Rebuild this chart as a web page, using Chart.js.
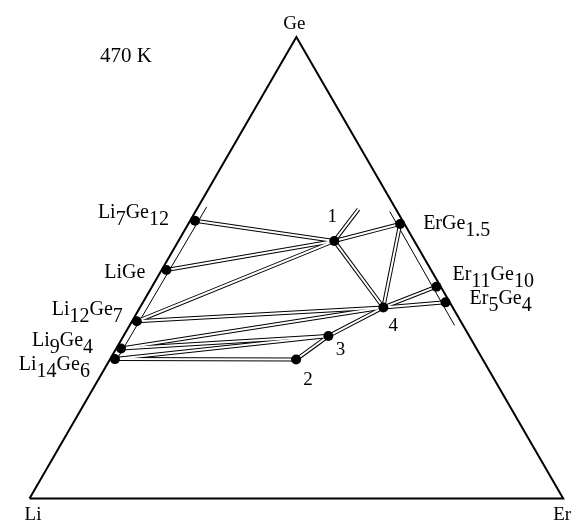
<!DOCTYPE html>
<html>
<head>
<meta charset="utf-8">
<script src="https://cdn.jsdelivr.net/npm/chart.js@4/dist/chart.umd.min.js"></script>
<style>
  html, body { margin: 0; padding: 0; background: #fff; }
  canvas { display: block; }
</style>
</head>
<body>
<canvas id="c" width="578" height="526"></canvas>
<script>
// Li–Ge–Er isothermal section at 470 K; compositions are atomic fractions.
const nodeNames = ['Li', 'Ge', 'Er',
  'Li7Ge12', 'LiGe', 'Li12Ge7', 'Li9Ge4', 'Li14Ge6',
  'ErGe1.5', 'Er11Ge10', 'Er5Ge4',
  '1', '2', '3', '4',
  '1a', 'liSideTop', 'liSideBottom', 'erSideTop', 'erSideBottom'];
const nodeLi = [1, 0, 0,
  0.389, 0.496, 0.607, 0.666, 0.689,
  0.008, 0.008, 0.008,
  0.150, 0.350, 0.264, 0.130,
  0.070, 0.352, 0.687, 0.014, 0.016];
const nodeGe = [0, 1, 0,
  0.602, 0.495, 0.384, 0.325, 0.302,
  0.595, 0.459, 0.425,
  0.558, 0.301, 0.352, 0.414,
  0.627, 0.632, 0.300, 0.622, 0.375];
const nodeEr = [0, 0, 1,
  0.009, 0.009, 0.009, 0.009, 0.009,
  0.397, 0.533, 0.567,
  0.292, 0.349, 0.384, 0.456,
  0.303, 0.016, 0.013, 0.364, 0.609];

// phases shown with a filled dot
const phaseNodes = ['Li7Ge12', 'LiGe', 'Li12Ge7', 'Li9Ge4', 'Li14Ge6',
  'ErGe1.5', 'Er11Ge10', 'Er5Ge4', '1', '2', '3', '4'];

// two-phase tie lines (drawn as double lines)
const tieStart = ['Li7Ge12', 'LiGe', 'Li12Ge7', '1', '1', '1', 'ErGe1.5', '4', '4',
  'Li12Ge7', 'Li9Ge4', 'Li9Ge4', 'Li14Ge6', 'Li14Ge6', '2', '3'];
const tieEnd = ['1', '1', '1', 'ErGe1.5', '4', '1a', '4', 'Er11Ge10', 'Er5Ge4',
  '4', '4', '3', '3', '2', '3', '4'];

// single thin lines along the binary sides
const sideStart = ['liSideTop', 'erSideTop'];
const sideEnd = ['liSideBottom', 'erSideBottom'];

// triangle outline
const outline = ['Li', 'Ge', 'Er', 'Li'];

const vertexLabels = ['Ge', 'Li', 'Er'];
const formulaLabels = ['Li7Ge12', 'LiGe', 'Li12Ge7', 'Li9Ge4', 'Li14Ge6', 'ErGe1.5', 'Er11Ge10', 'Er5Ge4'];
const numberLabels = ['1', '2', '3', '4'];
const temperatureLabel = '470 K';

// ---- geometry: ternary -> cartesian (equilateral triangle, Li at origin, Er at x = 1)
const H = Math.sqrt(3) / 2;
function idx(name) { return nodeNames.indexOf(name); }
function pt(name) {
  const i = idx(name);
  return { x: nodeEr[i] + nodeGe[i] / 2, y: nodeGe[i] * H };
}

// ---- label placement (pixel offsets from the labelled node)
const labelPlace = {
  'Ge': { dx: -2, dy: -8, align: 'center', size: 19 },
  'Li': { dx: -5, dy: 22, align: 'left', size: 19 },
  'Er': { dx: -10, dy: 22, align: 'left', size: 19 },
  'Li7Ge12': { dx: -26, dy: -3, align: 'right', size: 20 },
  'LiGe': { dx: -21, dy: 8, align: 'right', size: 20 },
  'Li12Ge7': { dx: -14, dy: -6, align: 'right', size: 20 },
  'Li9Ge4': { dx: -28, dy: -2, align: 'right', size: 20 },
  'Li14Ge6': { dx: -25, dy: 11, align: 'right', size: 20 },
  'ErGe1.5': { dx: 23, dy: 5, align: 'left', size: 20 },
  'Er11Ge10': { dx: 16, dy: -7, align: 'left', size: 20 },
  'Er5Ge4': { dx: 24, dy: 2, align: 'left', size: 20 },
  '1': { dx: -2, dy: -19, align: 'center', size: 19 },
  '2': { dx: 12, dy: 25, align: 'center', size: 19 },
  '3': { dx: 12, dy: 19, align: 'center', size: 19 },
  '4': { dx: 10, dy: 24, align: 'center', size: 19 }
};
const FONT = '"Liberation Serif", "Times New Roman", Times, serif';
const SUB_DROP = 7;

// ---- datasets
const datasets = [];
datasets.push({
  data: phaseNodes.map(pt), showLine: false,
  pointRadius: 5, pointBackgroundColor: '#000', pointBorderWidth: 0, order: 0
});
tieStart.forEach((s, k) => {
  const d = [pt(s), pt(tieEnd[k])];
  datasets.push({ data: d, showLine: true, pointRadius: 0, borderColor: '#fff', borderWidth: 2, order: 1 });
  datasets.push({ data: d, showLine: true, pointRadius: 0, borderColor: '#000', borderWidth: 4, order: 2 });
});
sideStart.forEach((s, k) => {
  datasets.push({ data: [pt(s), pt(sideEnd[k])], showLine: true, pointRadius: 0,
    borderColor: '#000', borderWidth: 1, order: 3 });
});
datasets.push({ data: outline.map(pt), showLine: true, pointRadius: 0,
  borderColor: '#000', borderWidth: 2, borderJoinStyle: 'miter', order: 4 });

// ---- text drawing
function tokens(formula) {
  const out = [];
  const re = /([A-Z][a-z]?)|([0-9.]+)/g;
  let m;
  while ((m = re.exec(formula))) out.push({ t: m[0], sub: !!m[2] });
  return out;
}
function drawFormula(ctx, text, x, y, align, size) {
  ctx.font = size + 'px ' + FONT;
  const tk = tokens(text);
  const w = tk.reduce((a, k) => a + ctx.measureText(k.t).width, 0);
  let cx = align === 'right' ? x - w : align === 'center' ? x - w / 2 : x;
  ctx.textAlign = 'left';
  tk.forEach(k => {
    ctx.fillText(k.t, cx, y + (k.sub ? SUB_DROP : 0));
    cx += ctx.measureText(k.t).width;
  });
}
function drawPlain(ctx, text, x, y, align, size) {
  ctx.font = size + 'px ' + FONT;
  ctx.textAlign = align;
  ctx.fillText(text, x, y);
}

const textPlugin = {
  id: 'phaseText',
  afterDatasetsDraw(chart) {
    const { ctx, scales: { x, y } } = chart;
    ctx.save();
    ctx.fillStyle = '#000';
    ctx.textBaseline = 'alphabetic';
    const at = (name) => {
      const p = pt(name), L = labelPlace[name];
      return { px: x.getPixelForValue(p.x) + L.dx, py: y.getPixelForValue(p.y) + L.dy, L };
    };
    vertexLabels.forEach(n => { const a = at(n); drawPlain(ctx, n, a.px, a.py, a.L.align, a.L.size); });
    formulaLabels.forEach(n => { const a = at(n); drawFormula(ctx, n, a.px, a.py, a.L.align, a.L.size); });
    numberLabels.forEach(n => { const a = at(n); drawPlain(ctx, n, a.px, a.py, a.L.align, a.L.size); });
    const ca = chart.chartArea;
    drawPlain(ctx, temperatureLabel, ca.left + 95, ca.top + 57, 'left', 21);
    ctx.restore();
  }
};

new Chart(document.getElementById('c'), {
  type: 'scatter',
  data: { datasets },
  options: {
    responsive: false,
    animation: false,
    events: [],
    layout: { padding: 0 },
    elements: { line: { tension: 0, borderCapStyle: 'butt' } },
    plugins: { legend: { display: false }, tooltip: { enabled: false } },
    scales: {
      x: { type: 'linear', display: false, min: -0.0460, max: 1.0184 },
      y: { type: 'linear', display: false, min: -0.0424, max: 0.9263 }
    }
  },
  plugins: [textPlugin]
});
</script>
</body>
</html>
